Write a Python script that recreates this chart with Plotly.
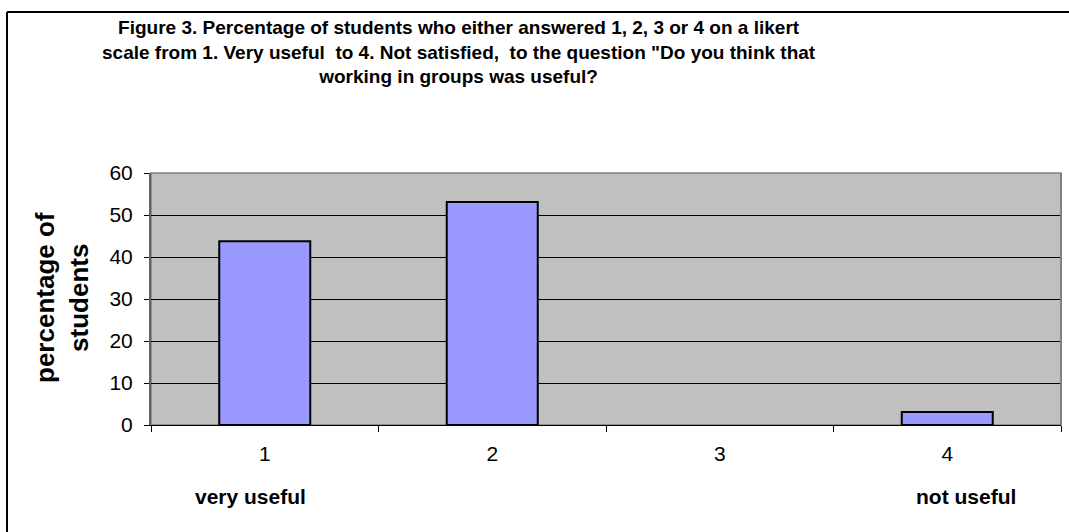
import plotly.graph_objects as go

categories = ["1", "2", "3", "4"]
percentages = [43.75, 53.125, 0, 3.125]
y_ticks = [0, 10, 20, 30, 40, 50, 60]
title_lines = [
    "Figure 3. Percentage of students who either answered 1, 2, 3 or 4 on a likert",
    "scale from 1. Very useful  to 4. Not satisfied,  to the question \"Do you think that",
    "working in groups was useful?",
]
y_title = "percentage of<br>students"
end_labels = ["very useful", "not useful"]

W, H = 1069, 532
L, R, T, B = 151, 8, 173, 107

fig = go.Figure()
fig.add_trace(go.Bar(
    x=categories, y=percentages, width=0.4,
    marker=dict(color="#9999FF",
                line=dict(color="black", width=[2 if v > 0 else 0 for v in percentages])),
))

fig.update_layout(
    width=W, height=H,
    margin=dict(l=L, r=R, t=T, b=B, pad=0),
    paper_bgcolor="white", plot_bgcolor="#C0C0C0",
    showlegend=False,
    font=dict(family="Liberation Sans, Arial, sans-serif", color="black", size=16),
    xaxis=dict(
        type="category", tickson="boundaries", ticks="outside", ticklen=6,
        tickcolor="black", showline=True, linecolor="black", linewidth=1,
        showgrid=False, ticklabelstandoff=10, tickfont=dict(size=21),
    ),
    yaxis=dict(
        range=[0, 60], tickvals=y_ticks, ticks="outside", ticklen=5,
        tickcolor="black", showline=True, linecolor="#606060", linewidth=2,
        showgrid=True, gridcolor="black", gridwidth=1, zeroline=False,
        tickfont=dict(size=21), ticklabelstandoff=7,
    ),
)

# plot area top/right border
fig.add_shape(type="rect", xref="paper", yref="paper", x0=0, x1=1, y0=0, y1=1,
              line=dict(color="#808080", width=1.5), layer="below")
fig.add_shape(type="line", xref="paper", yref="paper", x0=1, x1=1, y0=0, y1=1,
              line=dict(color="#808080", width=2))

def px_x(px):
    return (px - L) / (W - L - R)

def px_y(py):
    return (H - B - py) / (H - T - B)

# outer chart border (top & left visible)
fig.add_shape(type="line", xref="paper", yref="paper",
              x0=px_x(7), x1=px_x(W + 5), y0=px_y(12), y1=px_y(12),
              line=dict(color="black", width=2))
fig.add_shape(type="line", xref="paper", yref="paper",
              x0=px_x(7), x1=px_x(7), y0=px_y(12), y1=px_y(H + 5),
              line=dict(color="black", width=2))

# title
fig.add_annotation(
    text="<br>".join(title_lines), xref="paper", yref="paper",
    x=px_x(459), y=px_y(52), xanchor="center", yanchor="middle",
    showarrow=False, align="center",
    font=dict(family="Liberation Sans Narrow, Arial Narrow, Liberation Sans, Arial",
              size=19, color="black", weight="bold"),
)

# y axis title
fig.add_annotation(
    text=y_title, xref="paper", yref="paper",
    x=px_x(62), y=px_y(298), xanchor="center", yanchor="middle",
    showarrow=False, textangle=-90, align="center",
    font=dict(size=26, color="black", weight="bold"),
)

# end labels
fig.add_annotation(text=end_labels[0], xref="paper", yref="paper",
                   x=px_x(250), y=px_y(497), xanchor="center", yanchor="middle",
                   showarrow=False, font=dict(size=21, weight="bold"))
fig.add_annotation(text=end_labels[1], xref="paper", yref="paper",
                   x=px_x(966), y=px_y(497), xanchor="center", yanchor="middle",
                   showarrow=False, font=dict(size=21, weight="bold"))

fig.write_html("out.html", config={"displayModeBar": False},
               post_script="document.body.style.margin='0';")
